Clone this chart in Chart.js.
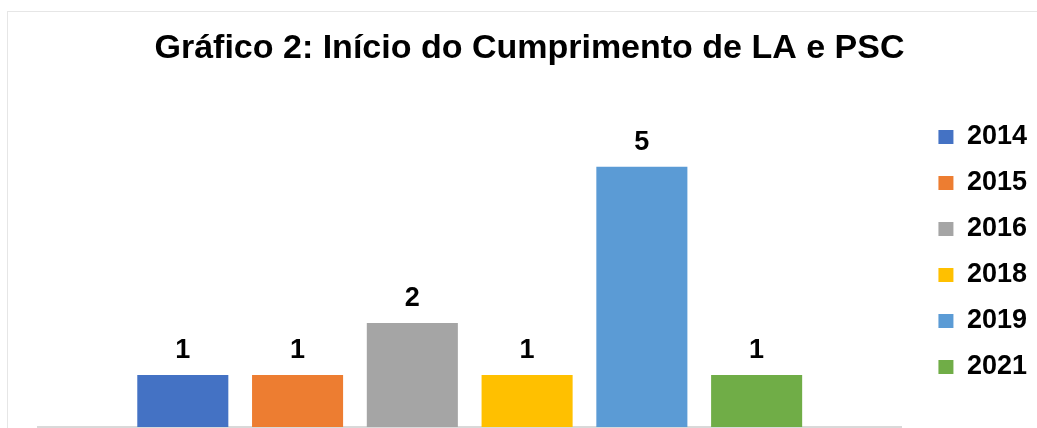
<!DOCTYPE html>
<html lang="pt">
<head>
<meta charset="utf-8">
<title>Gráfico 2</title>
<script src="https://cdn.jsdelivr.net/npm/chart.js@4"></script>
<style>
  html, body { margin: 0; padding: 0; background: #fff; }
  #wrap { position: relative; width: 1037px; height: 428px; }
  #frame { position: absolute; left: 7px; top: 11px; right: 0; bottom: 0;
           border-left: 1px solid #e6e6e6; border-top: 1px solid #e6e6e6; pointer-events: none; }
</style>
</head>
<body>
<div id="wrap">
  <canvas id="myChart" width="1037" height="428"></canvas>
  <div id="frame"></div>
</div>
<script>
// chart data
let years = ["2014", "2015", "2016", "2018", "2019", "2021"];
let counts = [1, 1, 2, 1, 5, 1];
let barColors = ["#4472C4", "#ED7D31", "#A5A5A5", "#FFC000", "#5B9BD5", "#70AD47"];
let categories = [""];

let titleText = "Gráfico 2: Início do Cumprimento de LA e PSC";

// one dataset per year, like the excel chart
let datasets = [];
for (let i = 0; i < years.length; i++) {
    datasets.push({
        label: years[i],
        data: [counts[i]],
        backgroundColor: barColors[i],
        borderWidth: 0,
        categoryPercentage: 0.7975,
        barPercentage: 0.7934
    });
}

// numbers above the bars
const valueLabels = {
    id: "valueLabels",
    afterDatasetsDraw(chart) {
        const ctx = chart.ctx;
        ctx.save();
        ctx.font = "bold 27px 'Liberation Sans', Arial, sans-serif";
        ctx.fillStyle = "#000";
        ctx.textAlign = "center";
        ctx.textBaseline = "alphabetic";
        chart.data.datasets.forEach((ds, i) => {
            const meta = chart.getDatasetMeta(i);
            meta.data.forEach((bar, j) => {
                ctx.fillText(ds.data[j], bar.x, bar.y - 17);
            });
        });
        ctx.restore();
    }
};

Chart.defaults.font.family = "'Liberation Sans', Arial, sans-serif";
Chart.defaults.color = "#000";

let myChart = document.getElementById("myChart").getContext("2d");

var pollChart = new Chart(myChart, {
    type: "bar",
    data: {
        labels: categories,
        datasets: datasets
    },
    plugins: [valueLabels],
    options: {
        responsive: false,
        animation: false,
        layout: {
            padding: { left: 22, right: 0, top: 0, bottom: 1 }
        },
        plugins: {
            title: {
                display: true,
                text: titleText,
                color: "#000",
                font: { size: 34, weight: "bold" },
                padding: { top: 28, bottom: 8 }
            },
            legend: {
                position: "right",
                fullSize: false,
                labels: {
                    boxWidth: 15,
                    boxHeight: 14,
                    padding: 19,
                    color: "#000",
                    font: { size: 27, weight: "bold" }
                }
            }
        },
        scales: {
            x: {
                grid: { display: false, drawTicks: false },
                ticks: { display: false },
                border: { display: true, color: "#D9D9D9", width: 2 }
            },
            y: {
                min: 0,
                max: 6.73,
                grid: { display: false, drawTicks: false },
                ticks: { display: false },
                border: { display: false },
                afterFit: function(scale) { scale.width = 16; }
            },
            y2: {
                type: "linear",
                position: "right",
                grid: { display: false, drawTicks: false },
                ticks: { display: false },
                border: { display: false },
                afterFit: function(scale) { scale.width = 18; }
            }
        }
    }
});
</script>
</body>
</html>
